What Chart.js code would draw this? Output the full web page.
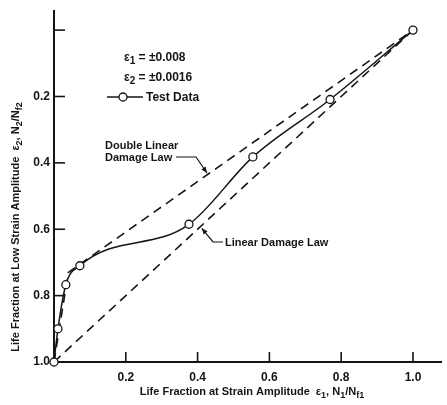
<!DOCTYPE html>
<html>
<head>
<meta charset="utf-8">
<script src="https://cdn.jsdelivr.net/npm/chart.js@4.4.0/dist/chart.umd.min.js"></script>
<style>
  html, body { margin: 0; padding: 0; background: #fff; }
  #wrap { width: 447px; height: 405px; }
</style>
</head>
<body>
<div id="wrap"><canvas id="chart" width="447" height="405"></canvas></div>
<script>
// test data
const testX = [0, 0.011, 0.033, 0.072, 0.376, 0.554, 0.769, 1.0];
const testY = [1.0, 0.90, 0.767, 0.71, 0.585, 0.382, 0.209, 0.0];
// double linear damage law
const doubleX = [0, 0.04, 1.0];
const doubleY = [1.0, 0.73, 0.0];
// linear damage law
const linearX = [0, 1.0];
const linearY = [1.0, 0.0];
const xTicks = [0.2, 0.4, 0.6, 0.8, 1.0];
const yTicks = [0, 0.2, 0.4, 0.6, 0.8, 1.0];

const INK = "#151515";
const FONT = "'Liberation Sans', Arial, sans-serif";

const pts = (xs, ys) => xs.map((x, i) => ({ x: x, y: ys[i] }));

// draws text with subscript parts, returns width
function richText(ctx, x, y, parts, size, align) {
  const widths = parts.map(p => {
    ctx.font = "bold " + (p.sub ? size - 2 : size) + "px " + FONT;
    return ctx.measureText(p.t).width;
  });
  const total = widths.reduce((a, b) => a + b, 0);
  let cx = align === "center" ? x - total / 2 : x;
  parts.forEach((p, i) => {
    ctx.font = "bold " + (p.sub ? size - 2 : size) + "px " + FONT;
    ctx.fillText(p.t, cx, y + (p.sub ? 3 : 0));
    cx += widths[i];
  });
  return total;
}

function line(ctx, pts) {
  ctx.beginPath();
  ctx.moveTo(pts[0][0], pts[0][1]);
  for (let i = 1; i < pts.length; i++) ctx.lineTo(pts[i][0], pts[i][1]);
  ctx.stroke();
}

function arrowHead(ctx, fromX, fromY, tipX, tipY) {
  const a = Math.atan2(tipY - fromY, tipX - fromX);
  const len = 6, w = 2.5;
  ctx.beginPath();
  ctx.moveTo(tipX, tipY);
  ctx.lineTo(tipX - len * Math.cos(a) + w * Math.sin(a), tipY - len * Math.sin(a) - w * Math.cos(a));
  ctx.lineTo(tipX - len * Math.cos(a) - w * Math.sin(a), tipY - len * Math.sin(a) + w * Math.cos(a));
  ctx.closePath();
  ctx.fill();
}

const decorations = {
  id: "decorations",
  afterDraw(chart) {
    const ctx = chart.ctx;
    const xs = chart.scales.x, ys = chart.scales.y;
    const { left, bottom } = chart.chartArea;
    ctx.save();
    ctx.strokeStyle = INK;
    ctx.fillStyle = INK;
    ctx.textBaseline = "alphabetic";
    ctx.textAlign = "left";

    // inward tick marks
    ctx.lineWidth = 1.6;
    yTicks.forEach(v => {
      if (v === 1.0) return;
      const py = ys.getPixelForValue(v);
      line(ctx, [[left, py], [left + 11, py]]);
    });
    xTicks.forEach(v => {
      const px = xs.getPixelForValue(v);
      line(ctx, [[px, bottom], [px, bottom - 10]]);
    });

    // axis titles
    richText(ctx, 252, 395, [
      { t: "Life Fraction at Strain Amplitude  " }, { t: "ε" }, { t: "1", sub: true },
      { t: ", N" }, { t: "1", sub: true }, { t: "/N" }, { t: "f1", sub: true }
    ], 11, "center");
    ctx.save();
    ctx.translate(19, 227);
    ctx.rotate(-Math.PI / 2);
    richText(ctx, 0, 0, [
      { t: "Life Fraction at Low Strain Amplitude  " }, { t: "ε" }, { t: "2", sub: true },
      { t: ", N" }, { t: "2", sub: true }, { t: "/N" }, { t: "f2", sub: true }
    ], 11, "center");
    ctx.restore();

    // strain amplitudes
    richText(ctx, 124, 61, [{ t: "ε" }, { t: "1", sub: true }, { t: " = ±0.008" }], 12, "left");
    richText(ctx, 124, 81, [{ t: "ε" }, { t: "2", sub: true }, { t: " = ±0.0016" }], 12, "left");

    // legend
    ctx.lineWidth = 1.5;
    line(ctx, [[107, 97], [143, 97]]);
    ctx.beginPath();
    ctx.arc(123, 97, 4, 0, Math.PI * 2);
    ctx.fillStyle = "#fff";
    ctx.fill();
    ctx.lineWidth = 1.3;
    ctx.stroke();
    ctx.fillStyle = INK;
    ctx.font = "bold 12px " + FONT;
    ctx.fillText("Test Data", 146, 101);

    // double linear label + leader
    ctx.font = "bold 11px " + FONT;
    ctx.fillText("Double Linear", 105, 149);
    ctx.fillText("Damage Law", 105, 161);
    const dTipX = xs.getPixelForValue(0.426);
    const dTipY = ys.getPixelForValue(0.73 * (1 - 0.426) / (1 - 0.04));
    ctx.lineWidth = 1.2;
    line(ctx, [[176, 157], [196, 157], [dTipX, dTipY - 2]]);
    arrowHead(ctx, 196, 157, dTipX, dTipY - 2);

    // linear label + leader
    ctx.fillText("Linear Damage Law", 225, 246);
    const lTipX = xs.getPixelForValue(0.409);
    const lTipY = ys.getPixelForValue(1 - 0.409);
    line(ctx, [[223, 242], [213, 242], [lTipX + 1, lTipY + 2]]);
    arrowHead(ctx, 213, 242, lTipX + 1, lTipY + 2);

    ctx.restore();
  }
};

new Chart(document.getElementById("chart"), {
  type: "scatter",
  data: {
    datasets: [
      {
        label: "Test Data",
        data: pts(testX, testY),
        showLine: true,
        cubicInterpolationMode: "monotone",
        borderColor: INK,
        borderWidth: 1.5,
        pointRadius: 4,
        pointBackgroundColor: "#fff",
        pointBorderColor: INK,
        pointBorderWidth: 1.3,
        clip: false,
        order: 0,
      },
      {
        label: "Double Linear Damage Law",
        data: pts(doubleX, doubleY),
        showLine: true,
        borderColor: INK,
        borderWidth: 1.6,
        borderDash: [9, 6],
        pointRadius: 0,
        clip: false,
        order: 1,
      },
      {
        label: "Linear Damage Law",
        data: pts(linearX, linearY),
        showLine: true,
        borderColor: INK,
        borderWidth: 1.6,
        borderDash: [9, 6],
        pointRadius: 0,
        clip: false,
        order: 2,
      },
    ],
  },
  options: {
    responsive: false,
    animation: false,
    layout: { padding: { top: 8, right: 6, left: 0, bottom: 0 } },
    plugins: {
      legend: { display: false },
      tooltip: { enabled: false },
    },
    scales: {
      x: {
        type: "linear",
        min: 0,
        max: 1.078,
        afterBuildTicks: s => { s.ticks = xTicks.map(v => ({ value: v })); },
        afterFit: s => { s.height = 43; },
        grid: { display: false, drawTicks: false },
        border: { display: true, color: INK, width: 2 },
        ticks: {
          padding: 8,
          color: INK,
          font: { family: FONT, size: 12, weight: "bold" },
          callback: v => v.toFixed(1),
        },
      },
      y: {
        type: "linear",
        reverse: true,
        min: -0.057,
        max: 1.0,
        afterBuildTicks: s => { s.ticks = yTicks.map(v => ({ value: v })); },
        afterFit: s => { s.width = 54; },
        grid: { display: false, drawTicks: false },
        border: { display: true, color: INK, width: 2 },
        ticks: {
          padding: 4,
          color: INK,
          font: { family: FONT, size: 12, weight: "bold" },
          callback: v => (v === 0 ? "" : v.toFixed(1)),
        },
      },
    },
  },
  plugins: [decorations],
});
</script>
</body>
</html>
